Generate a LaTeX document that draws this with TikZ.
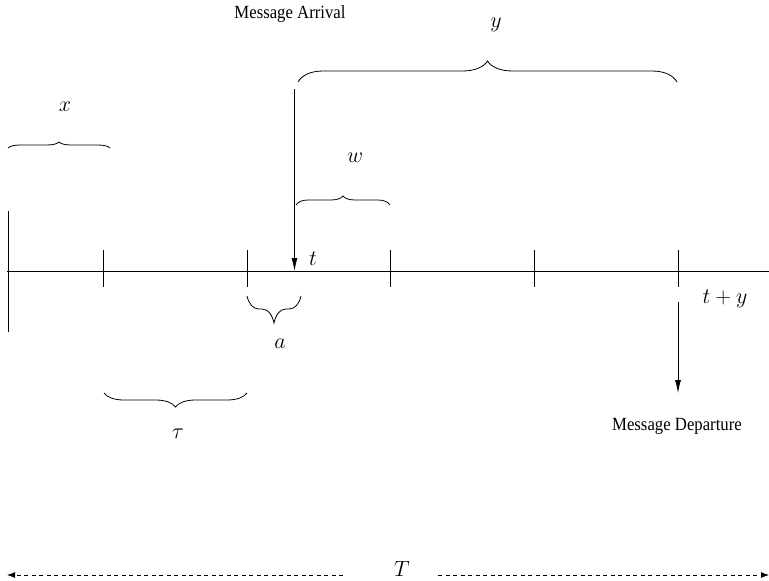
\RequirePackage{fix-cm}
\documentclass[tikz,border=0pt]{standalone}
\usepackage[no-math]{fontspec}
\usepackage{graphicx}
\newfontfamily\msgfont{Liberation Serif}
\usetikzlibrary{arrows.meta}
\newcommand{\mlab}{\fontsize{22}{26}\selectfont}
\newcommand{\brc}[6]{% x1, x2, yend, ybody, ytip, curl
  \draw[bracesty] (#1,#3) .. controls ({#1+0.15*#6},{#3+0.6*(#4-#3)}) and ({#1+0.5*#6},#4) .. ({#1+#6},#4)
   -- ({(#1+#2)/2-#6},#4) .. controls ({(#1+#2)/2-0.5*#6},#4) and ({(#1+#2)/2-0.15*#6},{#4+0.4*(#5-#4)}) .. ({(#1+#2)/2},#5)
   .. controls ({(#1+#2)/2+0.15*#6},{#4+0.4*(#5-#4)}) and ({(#1+#2)/2+0.5*#6},#4) .. ({(#1+#2)/2+#6},#4)
   -- ({#2-#6},#4) .. controls ({#2-0.5*#6},#4) and ({#2-0.15*#6},{#3+0.6*(#4-#3)}) .. (#2,#3);}
\begin{document}
\begin{tikzpicture}[x=1pt,y=-1pt,
  axissty/.style={line width=0.8pt},
  ticksty/.style={line width=0.8pt},
  bracesty/.style={line width=0.8pt},
  lbl/.style={inner sep=0pt, font=\mlab},
  msg/.style={inner sep=0pt, font=\msgfont\fontsize{18.6}{20}\selectfont},
  evarrow/.style={line width=0.8pt, -{Latex[length=13pt,width=6pt]}},
  tarrow/.style={line width=0.8pt, dash pattern=on 4pt off 3.5pt, -{Latex[length=8pt,width=6pt]}}]
\useasboundingbox (0,0) rectangle (769,581);
% axis
\coordinate (axL) at (7,271);
\coordinate (axR) at (769,271);
\draw[axissty] (axL) -- (axR);
% ticks
\draw[ticksty] (8,211) -- (8,332);
\foreach \tx in {103,247,390,534,678} {\draw[ticksty] (\tx,250) -- (\tx,287);}
% message arrival
\node[msg] (arrtxt) at (290,14) {\scalebox{0.9}[1]{Message Arrival}};
\coordinate (arrtop) at (294.5,89);
\coordinate (arrpt) at (294.5,271);
\draw[evarrow] (arrtop) -- (arrpt);
\node[lbl] (tl) at (313,259) {$t$};
% message departure
\node[lbl] (tyl) at (725,299) {$t+y$};
\coordinate (deptop) at (678,302);
\coordinate (depbot) at (678,393);
\draw[evarrow] (deptop) -- (depbot);
\node[msg] (deptxt) at (677,426) {\scalebox{0.9}[1]{Message Departure}};
% braces
\brc{298}{677}{82}{71}{61}{25}
\node[lbl] (yl) at (496,25) {$y$};
\brc{8}{110}{148}{145}{142}{12}
\node[lbl] (xl) at (65,107) {$x$};
\brc{296}{390}{205}{200}{196}{12}
\node[lbl] (wl) at (355,158) {$w$};
\brc{247}{301}{296}{309}{323}{12}
\node[lbl] (al) at (280,344) {$a$};
\brc{104}{247}{393}{400}{407}{20}
\node[lbl] (taul) at (178,434) {$\tau$};
% T
\node[lbl] (Tl) at (402,569) {$T$};
\coordinate (TLs) at (343,575);
\coordinate (TLe) at (7,575);
\coordinate (TRs) at (438,575);
\coordinate (TRe) at (769,575);
\draw[tarrow] (TLs) -- (TLe);
\draw[tarrow] (TRs) -- (TRe);
\end{tikzpicture}
\end{document}
